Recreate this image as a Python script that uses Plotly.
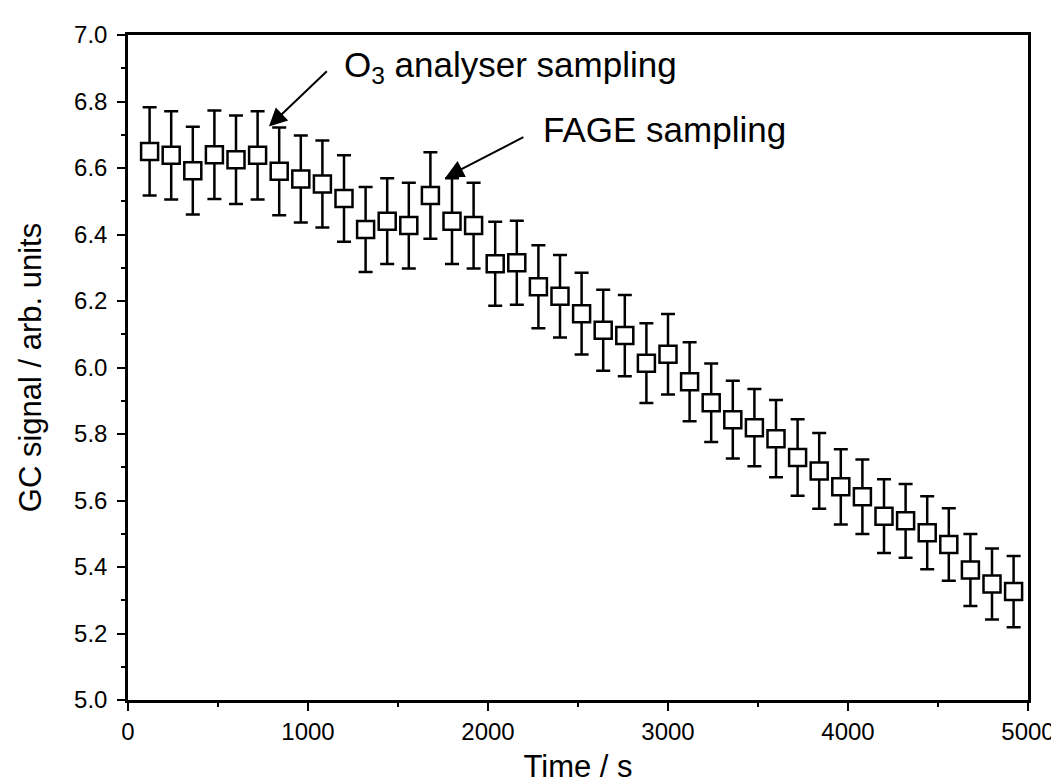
import plotly.graph_objects as go

# GC signal decay over time
time_s = [120, 240, 360, 480, 600, 720, 840, 960, 1080, 1200,
          1320, 1440, 1560, 1680, 1800, 1920, 2040, 2160, 2280, 2400,
          2520, 2640, 2760, 2880, 3000, 3120, 3240, 3360, 3480, 3600,
          3720, 3840, 3960, 4080, 4200, 4320, 4440, 4560, 4680, 4800, 4920]
gc_signal = [6.650, 6.638, 6.592, 6.640, 6.625, 6.638, 6.590, 6.567, 6.552, 6.508,
             6.415, 6.440, 6.427, 6.517, 6.440, 6.427, 6.312, 6.315, 6.243, 6.214,
             6.162, 6.112, 6.096, 6.013, 6.040, 5.957, 5.894, 5.843, 5.819, 5.786,
             5.729, 5.689, 5.641, 5.611, 5.553, 5.539, 5.503, 5.468, 5.391, 5.349, 5.326]
gc_error = [0.133, 0.133, 0.132, 0.133, 0.133, 0.133, 0.132, 0.131, 0.131, 0.130,
            0.128, 0.129, 0.129, 0.130, 0.129, 0.129, 0.126, 0.126, 0.125, 0.124,
            0.123, 0.122, 0.122, 0.120, 0.121, 0.119, 0.118, 0.117, 0.116, 0.116,
            0.115, 0.114, 0.113, 0.112, 0.111, 0.111, 0.110, 0.109, 0.108, 0.107, 0.107]

# annotation labels with arrow tip / tail positions (data coords)
notes = ["O<sub>3</sub> analyser sampling", "FAGE sampling"]
note_text_xy = [(1190, 6.905), (2292, 6.715)]
arrow_tip = [(783, 6.725), (1765, 6.572)]
arrow_tail = [(1113, 6.895), (2205, 6.695)]

FONT = "Liberation Sans, Arial, sans-serif"

fig = go.Figure()
fig.add_trace(go.Scatter(
    x=time_s, y=gc_signal, mode="markers",
    marker=dict(symbol="square", size=17, color="white",
                line=dict(color="black", width=2.5)),
    error_y=dict(type="data", array=gc_error, visible=True,
                 color="black", thickness=2.5, width=7),
    showlegend=False))

for txt, (tx, ty), (hx, hy), (sx, sy) in zip(notes, note_text_xy, arrow_tip, arrow_tail):
    fig.add_annotation(x=hx, y=hy, ax=sx, ay=sy, axref="x", ayref="y",
                       text="", showarrow=True, arrowhead=2, arrowsize=1.8,
                       arrowwidth=2, arrowcolor="black")
    fig.add_annotation(x=tx, y=ty, text=txt, showarrow=False,
                       xanchor="left", yanchor="middle",
                       font=dict(family=FONT, size=35, color="black"))

axis_common = dict(showline=True, linewidth=2.5, linecolor="black", mirror=True,
                   ticks="outside", ticklen=8, tickwidth=2, tickcolor="black",
                   showgrid=False, zeroline=False,
                   tickfont=dict(family=FONT, size=24, color="black"))

fig.update_xaxes(range=[0, 5000], dtick=1000, tick0=0,
                 minor=dict(dtick=500, ticks="outside", ticklen=4, tickwidth=2, tickcolor="black"),
                 title=dict(text="Time / s", font=dict(family=FONT, size=31, color="black"), standoff=12),
                 **axis_common)
fig.update_yaxes(range=[5.0, 7.0], dtick=0.2, tick0=5.0, tickformat=".1f", ticklabelstandoff=5,
                 minor=dict(dtick=0.1, ticks="outside", ticklen=4, tickwidth=2, tickcolor="black"),
                 title=dict(text="GC signal / arb. units", font=dict(family=FONT, size=31, color="black"), standoff=24),
                 **axis_common)

fig.update_layout(width=1059, height=782, plot_bgcolor="white", paper_bgcolor="white",
                  margin=dict(l=120, r=31, t=27, b=88))

fig.write_html("out.html")
